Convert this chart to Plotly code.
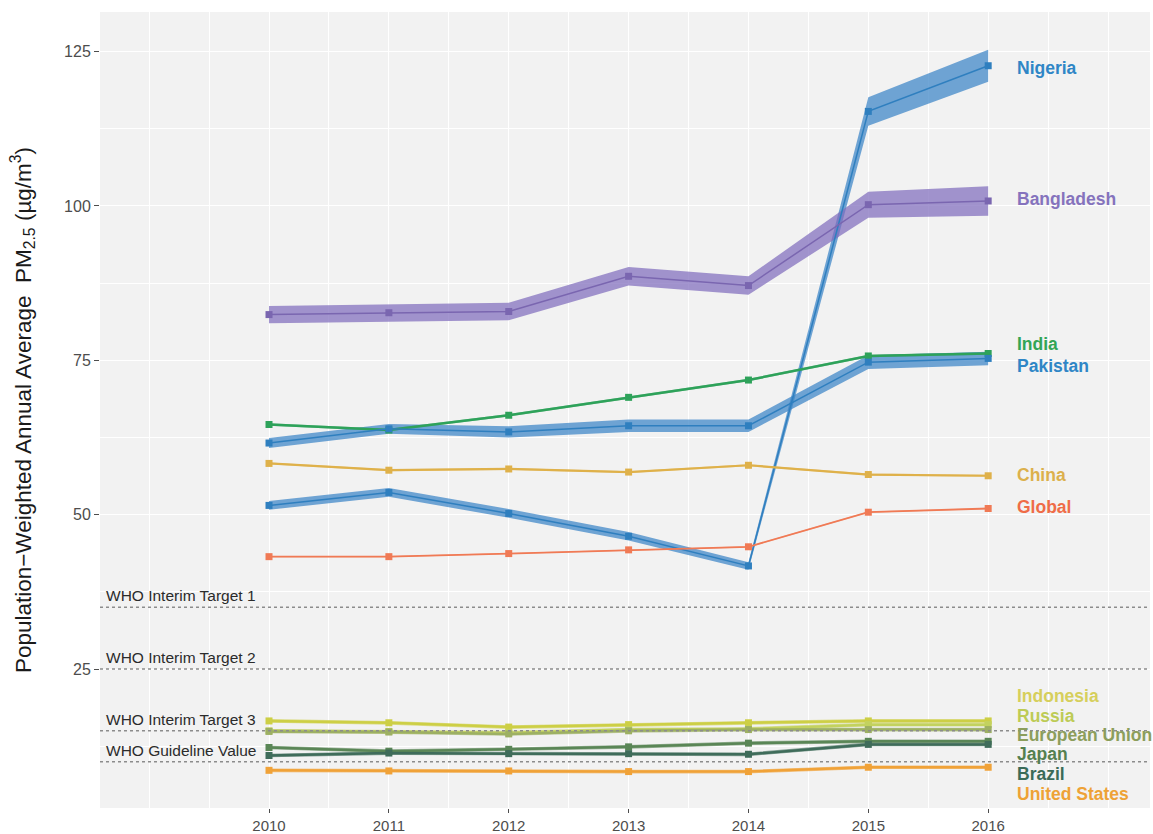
import plotly.graph_objects as go

years = [2010, 2011, 2012, 2013, 2014, 2015, 2016]

countries = ["Nigeria", "Bangladesh", "India", "Pakistan", "China", "Global",
             "Indonesia", "Russia", "European Union", "Japan", "Brazil", "United States"]

nigeria = [51.5, 53.6, 50.2, 46.5, 41.7, 115.3, 122.7]
bangladesh = [82.4, 82.7, 82.9, 88.6, 87.1, 100.2, 100.8]
india = [64.6, 63.7, 66.1, 69.0, 71.8, 75.7, 76.1]
pakistan = [61.6, 63.9, 63.4, 64.4, 64.4, 74.7, 75.3]
china = [58.3, 57.2, 57.4, 56.9, 58.0, 56.5, 56.3]
global_avg = [43.2, 43.2, 43.7, 44.3, 44.8, 50.4, 51.0]
indonesia = [16.6, 16.3, 15.6, 16.0, 16.3, 16.6, 16.6]
russia = [15.0, 14.9, 14.7, 15.2, 15.3, 16.0, 16.0]
european_union = [14.9, 14.8, 14.5, 15.0, 15.2, 15.2, 15.2]
japan = [12.3, 11.7, 12.0, 12.4, 13.0, 13.3, 13.3]
brazil = [11.0, 11.4, 11.3, 11.3, 11.2, 12.8, 12.8]
united_states = [8.6, 8.5, 8.5, 8.4, 8.4, 9.1, 9.1]

# half-width of uncertainty band
nigeria_err = [0.7, 0.7, 0.7, 0.7, 0.6, 2.3, 2.6]
bangladesh_err = [1.4, 1.4, 1.4, 1.5, 1.5, 2.1, 2.4]
india_err = [0.2, 0.2, 0.2, 0.2, 0.2, 0.2, 0.2]
pakistan_err = [0.8, 0.8, 0.9, 1.0, 1.0, 1.1, 1.1]
china_err = [0.15, 0.15, 0.15, 0.15, 0.15, 0.15, 0.15]
global_err = [0.1, 0.1, 0.1, 0.1, 0.1, 0.1, 0.1]
small_err = [0.3, 0.3, 0.3, 0.3, 0.3, 0.3, 0.3]

label_y = [122.4, 101.1, 77.6, 74.0, 56.4, 51.2, 20.6, 17.4, 14.4, 11.3, 8.0, 4.8]

who_values = [35, 25, 15, 10]
who_labels = ["WHO Interim Target 1", "WHO Interim Target 2",
              "WHO Interim Target 3", "WHO Guideline Value"]

y_ticks = [25, 50, 75, 100, 125]

values = [nigeria, bangladesh, india, pakistan, china, global_avg,
          indonesia, russia, european_union, japan, brazil, united_states]
errors = [nigeria_err, bangladesh_err, india_err, pakistan_err, china_err, global_err,
          small_err, small_err, small_err, small_err, small_err, small_err]

line_colors = ["#2f7fbf", "#7a66b0", "#2ea25a", "#2f7fbf", "#dfb14a", "#f07a55",
               "#cdcf45", "#c3d25e", "#9db063", "#5a8656", "#3f6c5a", "#f0a238"]
band_colors = ["rgba(58,132,198,0.72)", "rgba(128,108,188,0.72)", "rgba(46,162,90,0.5)",
               "rgba(58,132,198,0.72)", "rgba(223,177,74,0.5)", "rgba(240,122,85,0.5)",
               "rgba(205,207,69,0.6)", "rgba(195,210,94,0.6)", "rgba(157,176,99,0.6)",
               "rgba(90,134,86,0.6)", "rgba(63,108,90,0.6)", "rgba(240,162,56,0.6)"]
label_colors = ["#2f86c6", "#8573bd", "#33a556", "#2f86c6", "#dcb04c", "#ef6c47",
                "#d6cf5c", "#bdcb55", "#8c9e5c", "#55804f", "#3b6b58", "#eea236"]
line_widths = [1.5, 1.5, 2.5, 1.5, 2.2, 1.8, 2.5, 2.5, 2.5, 2.5, 2.5, 2.5]

fig = go.Figure()

# uncertainty bands
for name, v, e, bc in zip(countries, values, errors, band_colors):
    upper = [a + b for a, b in zip(v, e)]
    lower = [a - b for a, b in zip(v, e)]
    fig.add_trace(go.Scatter(
        x=years + years[::-1], y=upper + lower[::-1],
        fill="toself", fillcolor=bc, line=dict(width=0),
        mode="lines", hoverinfo="skip", showlegend=False))

# lines with markers
for name, v, lc, lw in zip(countries, values, line_colors, line_widths):
    fig.add_trace(go.Scatter(
        x=years, y=v, mode="lines+markers", name=name,
        line=dict(color=lc, width=lw),
        marker=dict(symbol="square", size=7, color=lc),
        showlegend=False))

# WHO reference lines
for wv, wl in zip(who_values, who_labels):
    fig.add_hline(y=wv, line=dict(color="#8c8c8c", width=1.6, dash="dot"))
    fig.add_annotation(x=2008.62, y=wv, text=wl, xref="x", yref="y",
                       xanchor="left", yanchor="bottom", showarrow=False, yshift=1,
                       font=dict(family="Liberation Sans, Arial", size=15.5, color="#2b2b2b"))

# country labels
for name, ly, c in zip(countries, label_y, label_colors):
    fig.add_annotation(x=2016.22, y=ly, text="<b>" + name + "</b>", xref="x", yref="y",
                       xanchor="left", yanchor="middle", showarrow=False,
                       font=dict(family="Liberation Sans, Arial", size=17.5, color=c))

fig.update_layout(
    width=1153, height=834,
    margin=dict(l=100, r=3, t=12, b=26),
    paper_bgcolor="white", plot_bgcolor="#f2f2f2",
    font=dict(family="Liberation Sans, Arial", color="#4d4d4d"),
    showlegend=False,
)

fig.update_xaxes(
    range=[2008.59, 2017.35], tickvals=years, ticktext=[str(y) for y in years],
    showgrid=True, gridcolor="white", gridwidth=1.3,
    minor=dict(dtick=0.5, tick0=2009, showgrid=True, gridcolor="white", gridwidth=0.6),
    ticks="outside", ticklen=4, tickcolor="#4d4d4d", tickwidth=1,
    ticklabelstandoff=0, automargin=False,
    tickfont=dict(size=15, color="#4d4d4d"), zeroline=False, showline=False,
)

fig.update_yaxes(
    range=[2.5, 131.4], tickvals=y_ticks,
    showgrid=True, gridcolor="white", gridwidth=1.3,
    minor=dict(dtick=12.5, tick0=0, showgrid=True, gridcolor="white", gridwidth=0.6),
    ticks="outside", ticklen=5, tickcolor="#4d4d4d", tickwidth=1,
    automargin=False,
    tickfont=dict(size=16, color="#4d4d4d"), zeroline=False, showline=False,
    title=dict(text="Population\u2212Weighted Annual Average  PM<sub>2.5</sub> (\u00b5g/m<sup>3</sup>)",
               font=dict(size=22.5, color="#1a1a1a"), standoff=26),
)

fig.write_html("out.html")
